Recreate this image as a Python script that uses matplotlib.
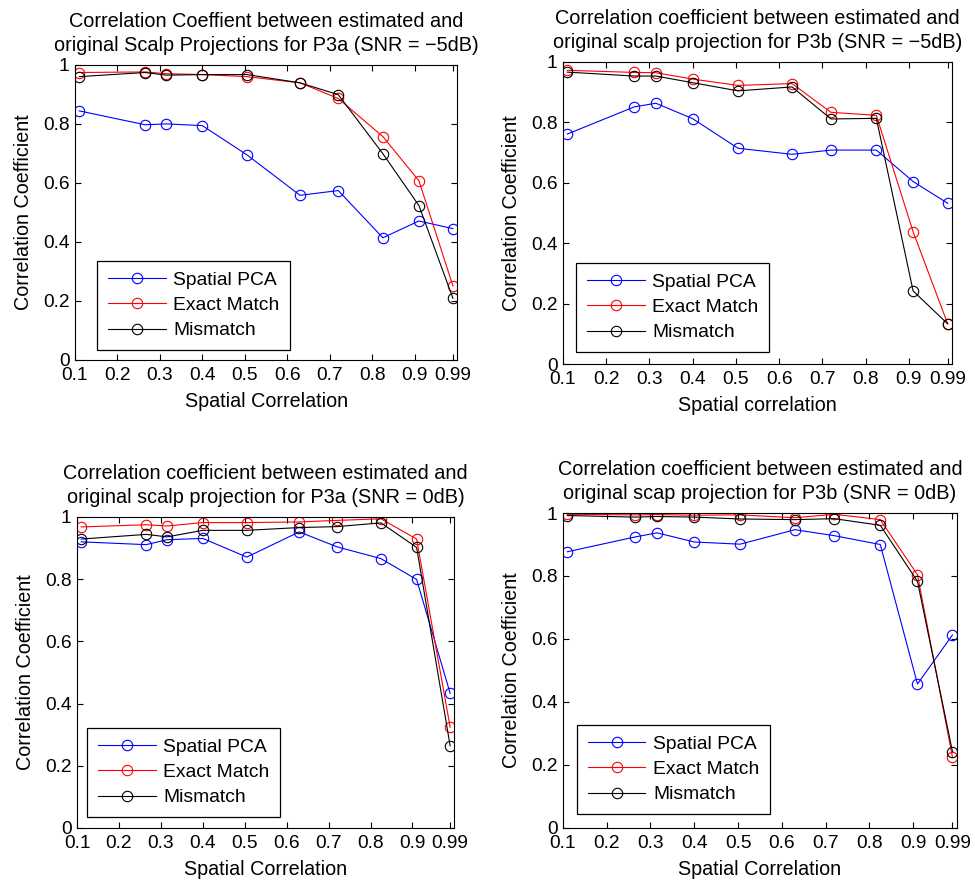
import numpy as np
import matplotlib
matplotlib.use("Agg")
import matplotlib.pyplot as plt

plt.rcParams["font.family"] = ["Liberation Sans", "DejaVu Sans"]

# ===============================
# DATA
# ===============================
spatial_corr = [0.11, 0.265, 0.315, 0.40, 0.505, 0.63, 0.72, 0.825, 0.91, 0.99]

# P3a, SNR = -5dB
p3a_m5_pca = [0.844, 0.797, 0.800, 0.794, 0.695, 0.558, 0.574, 0.414, 0.471, 0.445]
p3a_m5_exact = [0.974, 0.976, 0.970, 0.967, 0.960, 0.939, 0.886, 0.757, 0.607, 0.251]
p3a_m5_mis = [0.960, 0.974, 0.965, 0.967, 0.967, 0.939, 0.899, 0.699, 0.523, 0.209]

# P3b, SNR = -5dB
p3b_m5_pca = [0.761, 0.851, 0.863, 0.812, 0.714, 0.694, 0.708, 0.708, 0.604, 0.532]
p3b_m5_exact = [0.972, 0.965, 0.964, 0.943, 0.922, 0.928, 0.833, 0.823, 0.438, 0.133]
p3b_m5_mis = [0.966, 0.953, 0.953, 0.931, 0.904, 0.917, 0.811, 0.813, 0.242, 0.133]

# P3a, SNR = 0dB
p3a_0_pca = [0.920, 0.911, 0.927, 0.931, 0.871, 0.952, 0.904, 0.866, 0.799, 0.433]
p3a_0_exact = [0.968, 0.975, 0.971, 0.982, 0.982, 0.984, 0.989, 0.994, 0.929, 0.324]
p3a_0_mis = [0.929, 0.944, 0.936, 0.957, 0.957, 0.966, 0.969, 0.981, 0.902, 0.264]

# P3b, SNR = 0dB
p3b_0_pca = [0.877, 0.924, 0.937, 0.908, 0.901, 0.947, 0.928, 0.900, 0.457, 0.613]
p3b_0_exact = [0.996, 0.994, 0.995, 0.993, 0.994, 0.985, 0.996, 0.979, 0.804, 0.224]
p3b_0_mis = [0.992, 0.987, 0.989, 0.987, 0.981, 0.979, 0.982, 0.961, 0.783, 0.242]

xticks = [0.1, 0.2, 0.3, 0.4, 0.5, 0.6, 0.7, 0.8, 0.9, 0.99]
xtick_labels = ["0.1", "0.2", "0.3", "0.4", "0.5", "0.6", "0.7", "0.8", "0.9", "0.99"]
yticks = [0, 0.2, 0.4, 0.6, 0.8, 1.0]
ytick_labels = ["0", "0.2", "0.4", "0.6", "0.8", "1"]

series_names = ["Spatial PCA", "Exact Match", "Mismatch"]
series_colors = ["#0000ff", "#ff0000", "#000000"]

panels = [
    {
        "rect": [0.0769, 0.5914, 0.392, 0.335],
        "title": "Correlation Coeffient between estimated and\noriginal Scalp Projections for P3a (SNR = \u22125dB)",
        "xlabel": "Spatial Correlation",
        "data": [p3a_m5_pca, p3a_m5_exact, p3a_m5_mis],
        "leg": (22 / 382, 10 / 295),
    },
    {
        "rect": [0.5774, 0.5868, 0.399, 0.343],
        "title": "Correlation coefficient between estimated and\noriginal scalp projection for P3b (SNR = \u22125dB)",
        "xlabel": "Spatial correlation",
        "data": [p3b_m5_pca, p3b_m5_exact, p3b_m5_mis],
        "leg": (13 / 389, 12 / 302),
    },
    {
        "rect": [0.0790, 0.0602, 0.387, 0.353],
        "title": "Correlation coefficient between estimated and\noriginal scalp projection for P3a (SNR = 0dB)",
        "xlabel": "Spatial Correlation",
        "data": [p3a_0_pca, p3a_0_exact, p3a_0_mis],
        "leg": (10 / 377, 11 / 311),
    },
    {
        "rect": [0.5774, 0.0602, 0.404, 0.3575],
        "title": "Correlation coefficient between estimated and\noriginal scap projection for P3b (SNR = 0dB)",
        "xlabel": "Spatial Correlation",
        "data": [p3b_0_pca, p3b_0_exact, p3b_0_mis],
        "leg": (14 / 394, 14 / 315),
    },
]

# ===============================
# PLOT
# ===============================
fig = plt.figure(figsize=(9.75, 8.81), dpi=100)

for p in panels:
    ax = fig.add_axes(p["rect"])
    for vals, name, col in zip(p["data"], series_names, series_colors):
        ax.plot(spatial_corr, vals, color=col, linewidth=0.8, marker="o",
                markersize=7.5, markerfacecolor="none", markeredgecolor=col,
                markeredgewidth=0.8, label=name)
    # MATLAB-style axis runs to 1.0, last tick at 0.99
    ax.set_xlim(0.1, 1.0)
    ax.set_ylim(0, 1)
    ax.set_xticks(xticks)
    ax.set_xticklabels(xtick_labels)
    ax.set_yticks(yticks)
    ax.set_yticklabels(ytick_labels)
    ax.tick_params(direction="in", top=True, right=True, labelsize=13.8,
                   length=4, width=0.8)
    ax.tick_params(axis="x", pad=5)
    ax.tick_params(axis="y", pad=4)
    for s in ax.spines.values():
        s.set_linewidth(0.8)
    ax.set_title(p["title"], fontsize=14.3, pad=10, linespacing=1.32)
    ax.set_xlabel(p["xlabel"], fontsize=14.2, labelpad=5.5)
    ax.set_ylabel("Correlation Coefficient", fontsize=14.2, labelpad=7)
    leg = ax.legend(loc="lower left", bbox_to_anchor=p["leg"], borderaxespad=0,
                    fontsize=13.9, fancybox=False, framealpha=1, edgecolor="black",
                    handlelength=3.0, handletextpad=0.4, labelspacing=0.4,
                    borderpad=0.55)
    leg.get_frame().set_linewidth(0.9)

plt.savefig("out.png", dpi=100)
